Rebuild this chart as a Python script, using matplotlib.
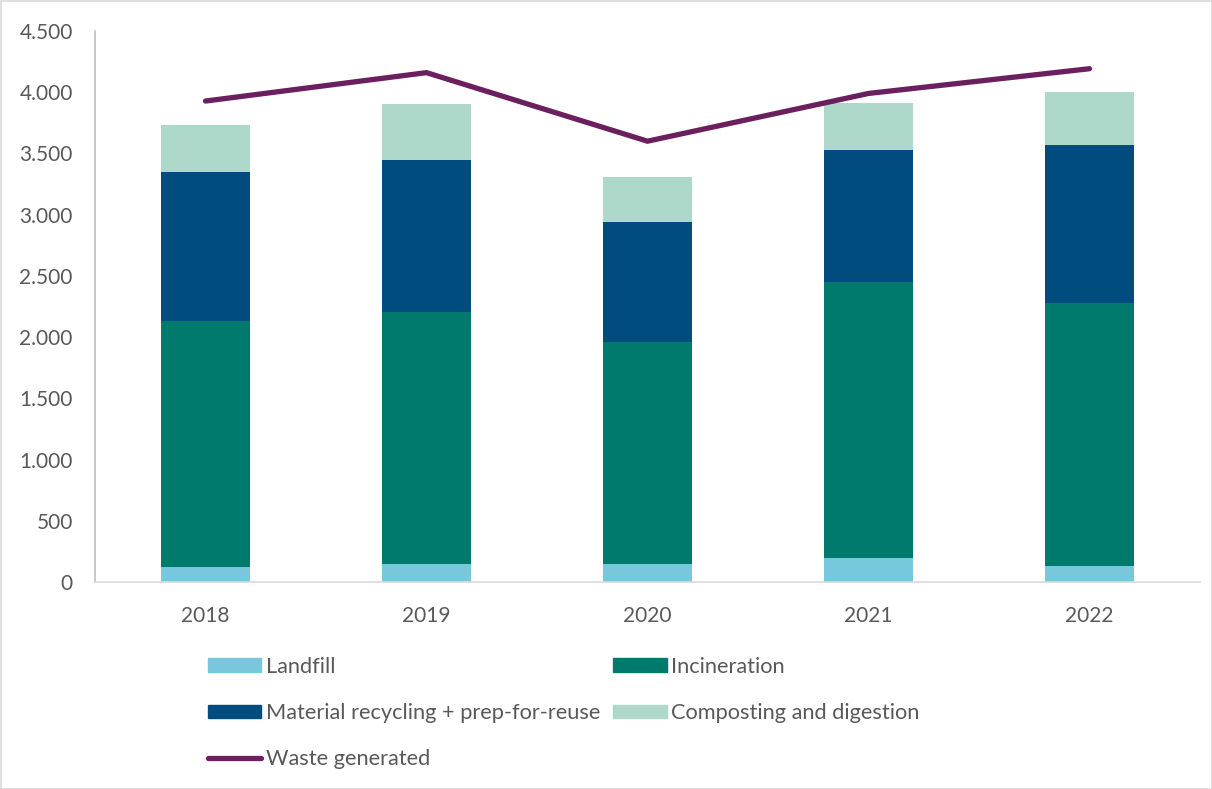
import matplotlib
matplotlib.use("Agg")
import matplotlib.pyplot as plt
from matplotlib.patches import Patch, Rectangle
from matplotlib.lines import Line2D
from matplotlib.ticker import FuncFormatter

years = ["2018", "2019", "2020", "2021", "2022"]
landfill = [122, 150, 144, 196, 128]
incineration = [2010, 2055, 1816, 2254, 2148]
recycling = [1217, 1244, 980, 1081, 1290]
composting = [383, 457, 368, 381, 436]
waste_generated = [3928, 4160, 3600, 3990, 4192]

series_names = ["Landfill", "Incineration", "Material recycling + prep-for-reuse",
                "Composting and digestion", "Waste generated"]
colors = ["#77C8DC", "#007A6C", "#004C7F", "#ADD8CA", "#6B1F5E"]

plt.rcParams['font.family'] = ['Lato', 'DejaVu Sans']
text_color = "#595959"

fig = plt.figure(figsize=(12.12, 7.89), dpi=100)
ax = fig.add_axes([95/1212, 1-582/789, (1200-95)/1212, (582-31)/789])

x = list(range(len(years)))
width = 0.4
bottom = [0]*len(years)
for vals, c, name in zip([landfill, incineration, recycling, composting], colors[:4], series_names[:4]):
    ax.bar(x, vals, width, bottom=bottom, color=c, label=name, zorder=2)
    bottom = [b + v for b, v in zip(bottom, vals)]

ax.plot(x, waste_generated, color=colors[4], lw=3.8, solid_capstyle='round',
        solid_joinstyle='miter', zorder=3)

ax.set_xlim(-0.5, 4.5)
ax.set_ylim(0, 4500)
ax.set_yticks(range(0, 4501, 500))
ax.yaxis.set_major_formatter(FuncFormatter(lambda v, p: f"{int(v):,}".replace(",", ".")))
ax.set_xticks(x)
ax.set_xticklabels(years)
ax.tick_params(axis='both', length=0, labelsize=15, labelcolor=text_color)
ax.tick_params(axis='y', pad=16)
ax.tick_params(axis='x', pad=17)
for s in ["top", "right"]:
    ax.spines[s].set_visible(False)
ax.spines["left"].set_color("#BFBFBF")
ax.spines["bottom"].set_color("#D9D9D9")
ax.spines["left"].set_linewidth(1.2)
ax.spines["bottom"].set_linewidth(1.2)

handles = [Patch(color=colors[0]), Patch(color=colors[2]),
           Line2D([0], [0], color=colors[4], lw=3.8, solid_capstyle='round'),
           Patch(color=colors[1]), Patch(color=colors[3])]
labels = [series_names[0], series_names[2], series_names[4], series_names[1], series_names[3]]
fig.legend(handles, labels, loc='upper left', bbox_to_anchor=(208/1212, 1-657/789),
           ncol=2, frameon=False, fontsize=15.7, labelcolor=text_color,
           handlelength=2.45, handleheight=0.6, handletextpad=0.22,
           columnspacing=0.58, labelspacing=1.2, borderpad=0, borderaxespad=0)

fig.add_artist(Rectangle((0.5/1212, 0.5/789), 1-1/1212, 1-1/789, transform=fig.transFigure,
                         fill=False, edgecolor="#D9D9D9", lw=1.2))

fig.savefig("out.png", dpi=100)
